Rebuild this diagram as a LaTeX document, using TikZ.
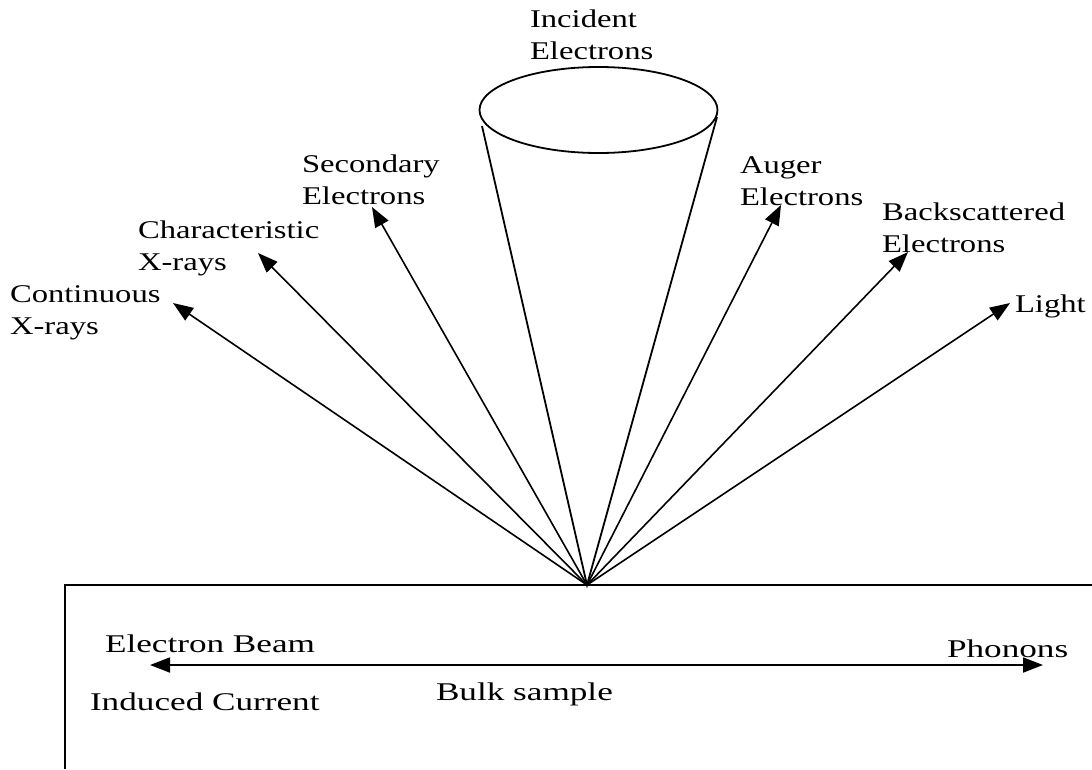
\documentclass[tikz,border=0pt]{standalone}
\usepackage{fontspec}
\setmainfont{Liberation Serif}[FakeStretch=1.28]
\newfontfamily\botfont{Liberation Serif}[FakeStretch=1.38]
\usetikzlibrary{arrows.meta,shapes.geometric}
\newcommand\mytwo[2]{\vtop{\baselineskip=32pt\lineskiplimit=-100pt\hbox{#1}\hbox{#2}}}
\begin{document}
\begin{tikzpicture}[x=1pt,y=-1pt,
 lbl/.style={anchor=base west, inner sep=0pt, outer sep=0pt, font=\fontsize{25.5}{32}\selectfont},
 blbl/.style={anchor=base west, inner sep=0pt, outer sep=0pt, font=\botfont\fontsize{25.5}{32}\selectfont},
 ray/.style={line width=1.6pt, -{Triangle[length=20pt,width=15pt]}},
 edgeline/.style={line width=1.8pt}]
\useasboundingbox (0,0) rectangle (1092,769);
% emission point
\coordinate (O) at (587,585);
% incident beam cone
\node (beam) [draw, line width=1.8pt, ellipse, minimum width=238pt, minimum height=86pt, inner sep=0pt] at (598.5,110) {};
\coordinate (cl) at (482,126);
\coordinate (cr) at (717,117);
\draw[edgeline] (cl) -- (O) -- (cr);
% arrow tips
\coordinate (tcont) at (173,303);
\coordinate (tchar) at (258,253);
\coordinate (tsec) at (372,207);
\coordinate (taug) at (781,205);
\coordinate (tback) at (908,252);
\coordinate (tlight) at (1010,303);
\draw[ray] (O) -- (tcont);
\draw[ray] (O) -- (tchar);
\draw[ray] (O) -- (tsec);
\draw[ray] (O) -- (taug);
\draw[ray] (O) -- (tback);
\draw[ray] (O) -- (tlight);
% labels
\node[lbl] (inc) at (530,27) {\mytwo{Incident}{Electrons}};
\node[lbl] (sec) at (302,172) {\mytwo{Secondary}{Electrons}};
\node[lbl] (cha) at (138,238) {\mytwo{Characteristic}{X-rays}};
\node[lbl] (con) at (10,302) {\mytwo{Continuous}{X-rays}};
\node[lbl] (aug) at (740,173) {\mytwo{Auger}{Electrons}};
\node[lbl] (bac) at (882,220) {\mytwo{Backscattered}{Electrons}};
\node[lbl] (lig) at (1015,312) {Light};
% bulk sample
\coordinate (br1) at (1092,585);
\coordinate (bl1) at (65,585);
\coordinate (bl2) at (65,769);
\draw[edgeline] (br1) -- (bl1) -- (bl2);
\coordinate (hl) at (150,665);
\coordinate (hr) at (1043,665);
\draw[line width=1.8pt, {Triangle[length=20pt,width=15pt]}-{Triangle[length=20pt,width=15pt]}] (hl) -- (hr);
\node[blbl] (ebeam) at (105,652) {Electron Beam};
\node[blbl] (icur) at (90,710) {Induced Current};
\node[blbl] (bulk) at (436,700) {Bulk sample};
\node[blbl] (phon) at (947,657) {Phonons};
\end{tikzpicture}
\end{document}
